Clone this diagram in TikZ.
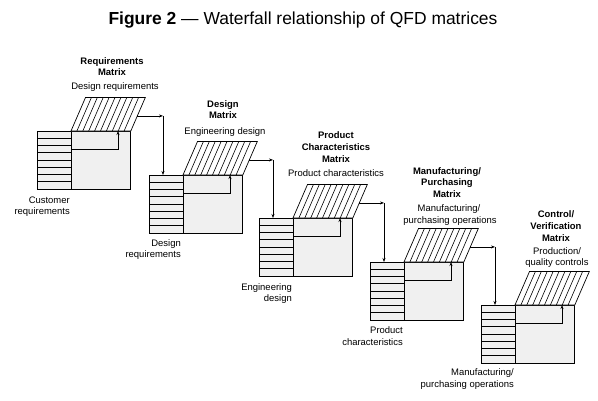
\documentclass[tikz,border=0pt]{standalone}
\usepackage{fontspec}
\setmainfont{Liberation Sans}
\usetikzlibrary{calc,arrows.meta}
\definecolor{boxgray}{HTML}{F0F0F0}
\tikzset{
  lbl/.style={font=\fontsize{9.5}{11}\selectfont, inner sep=0pt, anchor=base},
  blbl/.style={lbl, font=\fontsize{9.5}{11}\selectfont\bfseries},
  rlbl/.style={lbl, anchor=base east},
  lbox/.style={draw=black, fill=boxgray, line width=0.8bp, minimum width=34bp, minimum height=58bp, inner sep=0pt, anchor=north west},
  mbox/.style={draw=black, fill=boxgray, line width=0.8bp, minimum width=59bp, minimum height=58bp, inner sep=0pt, anchor=north west},
  rowline/.style={line width=0.7bp, black},
  hatchbox/.style={draw=black, fill=white, line width=0.7bp},
  hatch/.style={line width=0.6bp, black},
  arr/.style={line width=0.8bp, -{Stealth[length=4bp,width=3bp]}},
}
\newcommand\qfdmat[3]{%
  \node[lbox] (L#1) at (#2,#3) {};
  \node[mbox] (M#1) at (#2+34,#3) {};
  \foreach \k in {1,...,7} {\draw[rowline] ($(L#1.north west)+(0,\k*7.25)$) -- ++(34,0);}
  \coordinate (T#1) at ($(M#1.north east)+(14.5,-33.5)$);
  \draw[hatchbox] (M#1.north west) -- ++(14.5,-33.5) -- (T#1) -- (M#1.north east) -- cycle;
  \foreach \k in {1,...,9} {\draw[hatch] ($(M#1.north west)+(\k*5.9,0)$) -- ++(14.5,-33.5);}
  \coordinate (S#1) at ($(M#1.north east)!0.45!(T#1)$);
  \coordinate (IA#1) at ($(M#1.north west)+(0,18)$);
  \coordinate (IB#1) at ($(M#1.north west)+(47,0)$);
  \draw[arr] (IA#1) -| (IB#1);
}
\begin{document}
\begin{tikzpicture}[x=1bp,y=-1bp]
\useasboundingbox (0,0) rectangle (598,400);
\fill[white] (0,0) rectangle (598,400);

\node[lbl, font=\fontsize{17.5}{20}\selectfont] (title) at (303,24) {\textbf{Figure 2} — Waterfall relationship of QFD matrices};

\qfdmat{1}{37}{131}
\qfdmat{2}{149}{175}
\qfdmat{3}{259}{218}
\qfdmat{4}{370}{262}
\qfdmat{5}{481}{305}

% connectors
\foreach \a/\b in {1/2,2/3,3/4,4/5} {
  \path (L\b.north west) ++(14,0) coordinate (D\a);
  \coordinate (C\a) at (D\a |- S\a);
  \draw[arr] (S\a) -- (C\a);
  \draw[arr] (C\a) -- (D\a);
}

% top labels
\node[blbl] (t1a) at (112,64) {Requirements};
\node[blbl] (t1b) at (112,75.5) {Matrix};
\node[lbl] (t1c) at (115,89) {Design requirements};

\node[blbl] (t2a) at (223,107.5) {Design};
\node[blbl] (t2b) at (223,118.5) {Matrix};
\node[lbl] (t2c) at (225,134) {Engineering design};

\node[blbl] (t3a) at (336,138.5) {Product};
\node[blbl] (t3b) at (336,150.5) {Characteristics};
\node[blbl] (t3c) at (336,162) {Matrix};
\node[lbl] (t3d) at (336,176.5) {Product characteristics};

\node[blbl] (t4a) at (447,174) {Manufacturing/};
\node[blbl] (t4b) at (447,185.5) {Purchasing};
\node[blbl] (t4c) at (447,197) {Matrix};
\node[lbl] (t4d) at (449,211.5) {Manufacturing/};
\node[lbl] (t4e) at (450,223.5) {purchasing operations};

\node[blbl] (t5a) at (556,217.5) {Control/};
\node[blbl] (t5b) at (556,229.5) {Verification};
\node[blbl] (t5c) at (556,241) {Matrix};
\node[lbl] (t5d) at (557,254.5) {Production/};
\node[lbl] (t5e) at (557,265.5) {quality controls};

% bottom labels
\node[rlbl] (b1a) at (70,203.5) {Customer};
\node[rlbl] (b1b) at (70,214.5) {requirements};
\node[rlbl] (b2a) at (181,246.5) {Design};
\node[rlbl] (b2b) at (181,257.5) {requirements};
\node[rlbl] (b3a) at (292,290.8) {Engineering};
\node[rlbl] (b3b) at (292,301.8) {design};
\node[rlbl] (b4a) at (403,333.5) {Product};
\node[rlbl] (b4b) at (403,345.5) {characteristics};
\node[rlbl] (b5a) at (514,375.5) {Manufacturing/};
\node[rlbl] (b5b) at (514,387.5) {purchasing operations};
\end{tikzpicture}
\end{document}
